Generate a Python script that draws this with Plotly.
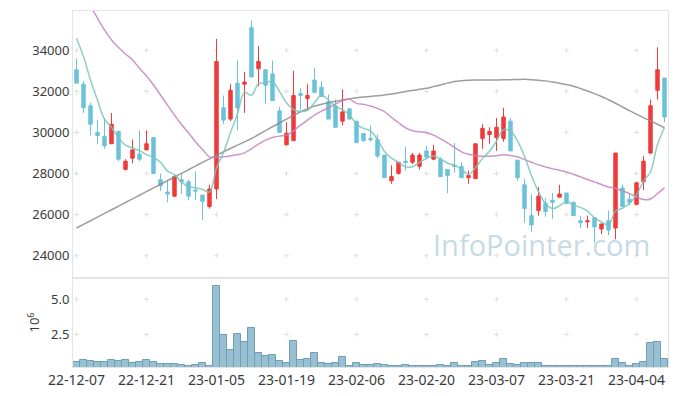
import plotly.graph_objects as go
from plotly.subplots import make_subplots

dates = ["22-12-07","22-12-08","22-12-09","22-12-12","22-12-13","22-12-14","22-12-15","22-12-16","22-12-19","22-12-20",
         "22-12-21","22-12-22","22-12-23","22-12-26","22-12-27","22-12-28","22-12-29","23-01-02","23-01-03","23-01-04",
         "23-01-05","23-01-06","23-01-09","23-01-10","23-01-11","23-01-12","23-01-13","23-01-16","23-01-17","23-01-18",
         "23-01-19","23-01-20","23-01-25","23-01-26","23-01-27","23-01-30","23-01-31","23-02-01","23-02-02","23-02-03",
         "23-02-06","23-02-07","23-02-08","23-02-09","23-02-10","23-02-13","23-02-14","23-02-15","23-02-16","23-02-17",
         "23-02-20","23-02-21","23-02-22","23-02-23","23-02-24","23-02-27","23-02-28","23-03-02","23-03-03","23-03-06",
         "23-03-07","23-03-08","23-03-09","23-03-10","23-03-13","23-03-14","23-03-15","23-03-16","23-03-17","23-03-20",
         "23-03-21","23-03-22","23-03-23","23-03-24","23-03-27","23-03-28","23-03-29","23-03-30","23-03-31","23-04-03",
         "23-04-04","23-04-05","23-04-06","23-04-07","23-04-10"]

open_ = [33050,32350,31300,30000,29800,29450,30050,28200,28750,28950,
         29150,29750,27700,27100,26900,27700,27600,27200,26950,26400,
         27250,31200,30650,32400,32350,35100,33100,33050,32850,31050,
         29400,29600,31900,31650,32550,32200,31500,31300,30550,31150,
         30550,29950,29700,29650,28900,27650,28000,28600,28550,28350,
         29100,28700,28700,28200,28400,28350,27800,27750,29700,29900,
         29750,29700,30550,28650,27450,25950,26200,26550,26700,26850,
         27050,26600,25700,25650,25850,25300,25700,25350,27300,26750,
         26500,27600,29000,32050,32650]
high = [33600,32500,31450,30600,30700,30950,30100,28700,29650,30100,
        30100,29750,28000,27700,27950,28000,27700,28100,26950,27450,
        34550,31800,32350,33500,32950,35450,34200,33050,33500,31250,
        30500,33000,32150,32350,33150,32500,31850,31600,32100,31150,
        30550,29950,30350,29900,28900,28400,28550,29300,29000,29000,
        29350,29400,28800,28200,29500,28550,28150,29450,30400,30250,
        30700,31200,30700,28650,27750,27000,27350,26800,27050,27450,
        27050,26650,25950,25950,25850,25550,26200,29000,27450,27050,
        27600,28850,31600,34150,32650]
low = [32400,30950,29850,29450,29200,29450,28600,28150,28500,28600,
       29150,28000,27150,26600,26850,27000,26700,26700,25750,26300,
       26750,30400,30550,30100,30950,32700,32250,31400,31550,30000,
       29350,29600,31100,31050,31950,31750,30650,30250,30350,30650,
       29500,29550,29550,28750,27800,27500,27950,28150,28450,28200,
       28700,28650,27850,27050,28050,27800,27500,27750,29200,29450,
       29100,29550,29100,27650,25600,25150,25950,25900,25800,26850,
       26500,25950,25350,25350,24650,25050,25000,24800,26400,26450,
       26450,27200,28950,31600,30500]
close = [32400,31200,30400,29850,29350,30400,28700,28600,29150,28700,
         29450,28000,27400,27000,27850,27600,26900,27150,26650,27250,
         33450,30600,32050,31200,32450,32700,33450,32300,31550,30000,
         29950,31800,31800,31800,31950,31750,30650,30250,31000,30650,
         29500,29600,29650,28850,27800,27850,28550,28550,28900,28900,
         28800,29100,27850,27900,28350,27800,27900,29450,30200,30050,
         30250,30750,29100,27800,26300,25500,26900,26150,26600,27000,
         26550,25950,25600,25700,25400,25550,25250,29000,26400,26600,
         27550,28600,31300,33050,30750]

ma5 = [34585,33690,32553,31577,30647,30244,29746,29382,29242,29115,
       28920,28780,28543,28120,27951,27580,27359,27304,27229,27102,
       28273,29011,29997,30907,31951,31805,32371,32413,32481,31987,
       31441,31115,31018,31070,31460,31815,31581,31268,31109,30855,
       30407,30198,30081,29652,29076,28751,28540,28325,28332,28553,
       28735,28852,28705,28504,28397,28198,27958,28277,28738,29080,
       29574,30140,30071,29590,28842,27893,27119,26527,26293,26432,
       26637,26455,26351,26172,25847,25645,25499,26176,26312,26553,
       26956,27629,28088,29415,30241]
ma20 = [37400,36800,36150,35561,34992,34504,34130,33821,33528,33122,
        32748,32309,31821,31333,30845,30390,29984,29545,29171,28813,
        28780,28813,28862,28911,29008,29203,29431,29626,29756,29821,
        29870,30081,30358,30602,30845,31041,31203,31382,31545,31610,
        31415,31366,31284,31171,31008,30732,30471,30228,30081,30033,
        29984,29870,29691,29496,29268,29057,28943,28878,28845,28845,
        28862,28911,28878,28813,28683,28553,28423,28325,28228,28163,
        28081,27967,27837,27707,27593,27463,27350,27285,27154,27024,
        26862,26732,26764,27024,27301]
ma60 = [25350,25527,25704,25882,26059,26236,26413,26590,26768,26945,
        27122,27299,27476,27654,27831,28008,28185,28362,28540,28717,
        28894,29060,29220,29380,29545,29707,29900,30090,30276,30460,
        30650,30830,31008,31150,31284,31370,31447,31515,31577,31635,
        31691,31720,31755,31790,31821,31870,31930,31990,32045,32098,
        32150,32230,32310,32400,32480,32520,32540,32550,32555,32555,
        32553,32560,32570,32580,32585,32570,32545,32510,32460,32400,
        32330,32250,32140,32020,31890,31750,31590,31420,31240,31060,
        30890,30720,30560,30400,30228]

volume_m = [0.57,0.71,0.64,0.57,0.57,0.71,0.64,0.71,0.50,0.57,
            0.71,0.57,0.43,0.43,0.43,0.36,0.29,0.36,0.50,0.29,
            5.93,2.43,1.38,2.57,1.93,2.93,1.21,1.00,1.07,0.64,
            0.50,2.07,0.71,0.79,1.21,0.50,0.43,0.50,0.93,0.29,
            0.50,0.36,0.36,0.43,0.36,0.29,0.29,0.36,0.29,0.29,
            0.29,0.29,0.36,0.29,0.50,0.24,0.29,0.57,0.64,0.36,
            0.50,0.79,0.43,0.36,0.50,0.50,0.50,0.24,0.29,0.29,
            0.24,0.24,0.29,0.29,0.29,0.24,0.29,0.79,0.50,0.29,
            0.43,0.57,1.86,2.00,0.79]

x_tick_index = list(range(0, len(dates), 10))
x_ticks = [dates[i] for i in x_tick_index]
price_ticks = [24000, 26000, 28000, 30000, 32000, 34000]
volume_ticks = [2.5, 5.0]

RED = "#f03b3b"
BLUE = "#6cc2d9"
FONT = "Noto Sans"
TXT = "#3a3a3a"

fig = make_subplots(rows=2, cols=1, shared_xaxes=True, row_heights=[0.75, 0.25], vertical_spacing=0)

fig.add_trace(go.Candlestick(x=dates, open=open_, high=high, low=low, close=close, showlegend=False,
                             increasing=dict(line=dict(color=RED, width=1), fillcolor=RED),
                             decreasing=dict(line=dict(color=BLUE, width=1), fillcolor=BLUE),
                             whiskerwidth=0), row=1, col=1)

fig.add_trace(go.Scatter(x=dates, y=ma60, mode="lines", showlegend=False,
                         line=dict(color="rgba(140,140,140,0.85)", width=1.5, shape="spline")), row=1, col=1)
fig.add_trace(go.Scatter(x=dates, y=ma20, mode="lines", showlegend=False,
                         line=dict(color="rgba(196,130,192,0.85)", width=1.5, shape="spline")), row=1, col=1)
fig.add_trace(go.Scatter(x=dates, y=ma5, mode="lines", showlegend=False,
                         line=dict(color="rgba(120,198,184,0.85)", width=1.5, shape="spline")), row=1, col=1)

fig.add_trace(go.Bar(x=dates, y=volume_m, showlegend=False,
                     marker=dict(color="#98c0d1", line=dict(color="#6d9fb8", width=1))), row=2, col=1)

# "+" grid markers at tick intersections, as small pixel-sized shapes beneath the data
cross_path = "M-2.5,0 L2.5,0 M0,-2.5 L0,2.5"
for xref, yref, yt in (("x", "y", price_ticks), ("x2", "y2", volume_ticks)):
    for xi in x_tick_index:
        for yv in yt:
            fig.add_shape(type="path", path=cross_path, xref=xref, yref=yref,
                          xsizemode="pixel", ysizemode="pixel", xanchor=xi, yanchor=yv,
                          line=dict(color="#e0e0e0", width=1), layer="below")

axis_common = dict(showline=True, mirror=True, linecolor="#e4e4e4", linewidth=1,
                   showgrid=False, zeroline=False, ticks="", automargin=False)

fig.update_xaxes(type="category", categoryorder="array", categoryarray=dates,
                 range=[-0.5, len(dates) - 0.5], tickvals=x_ticks, tickangle=0,
                 tickfont=dict(family=FONT, size=14, color=TXT),
                 rangeslider=dict(visible=False), **axis_common)
fig.update_xaxes(showticklabels=False, row=1, col=1)
fig.update_yaxes(range=[22916, 35911], tickvals=price_ticks, tickformat="d",
                 tickfont=dict(family=FONT, size=13, color=TXT), **axis_common, row=1, col=1)
fig.update_yaxes(range=[0.186, 6.52], tickvals=volume_ticks, tickformat=".1f",
                 tickfont=dict(family=FONT, size=13, color=TXT),
                 title=dict(text="10<sup>6</sup>", font=dict(family=FONT, size=13, color=TXT), standoff=8),
                 **axis_common, row=2, col=1)

fig.add_annotation(text="InfoPointer.com", xref="paper", yref="paper", x=0.7866, y=0.345,
                   xanchor="center", yanchor="middle",
                   showarrow=False, font=dict(family="Open Sans", size=29, color="rgba(184,208,222,0.8)"))

# page body has an 8px default margin: size the figure so the plot area lands where the reference has it
fig.update_layout(width=661, height=380, margin=dict(l=65, r=1, t=3, b=21),
                  paper_bgcolor="white", plot_bgcolor="white", bargap=0,
                  font=dict(family=FONT, size=13, color=TXT), showlegend=False)

fig.write_html("out.html")
